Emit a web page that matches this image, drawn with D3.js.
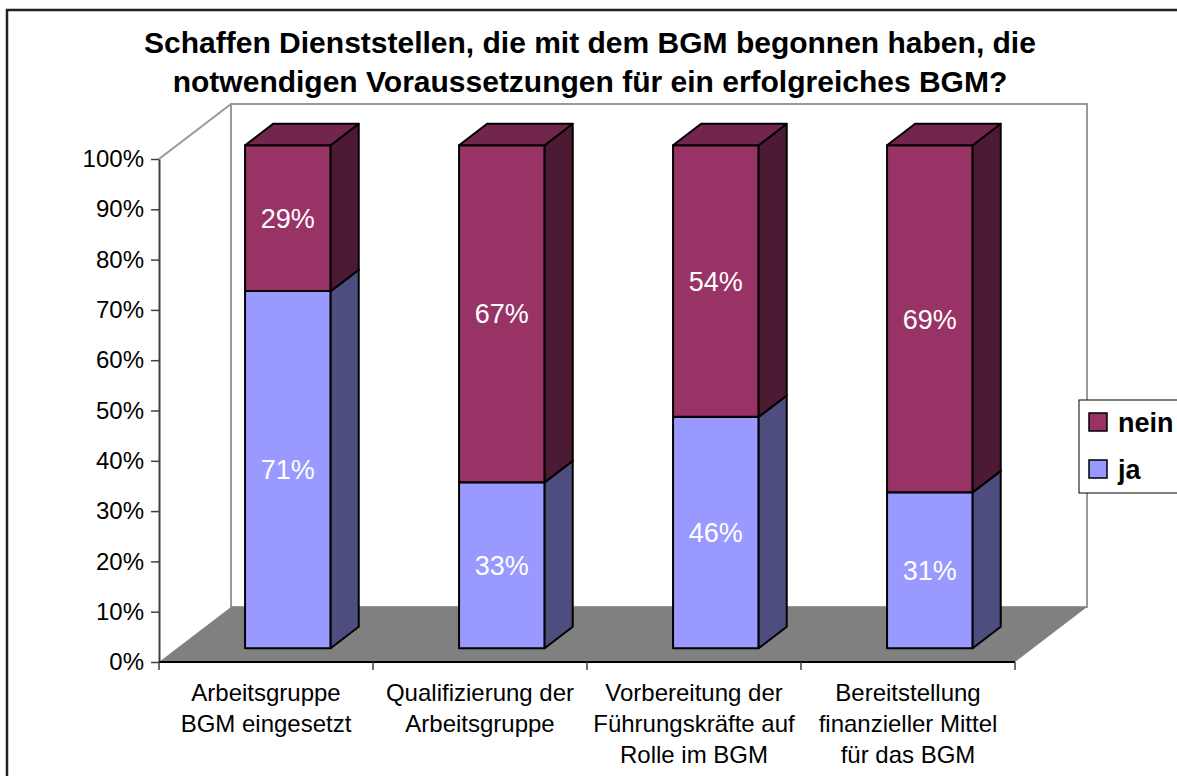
<!DOCTYPE html>
<html>
	<head>
		<meta charset="utf-8">
		<script src="https://cdnjs.cloudflare.com/ajax/libs/d3/7.8.5/d3.min.js" charset="utf-8"></script>
		<style>
			body { margin: 0; background: white; }
			text { font-family: 'Liberation Sans', Arial, sans-serif; }
			.axisLabel { font-size: 24px; fill: #000; }
			.catLabel { font-size: 24px; fill: #000; }
			.valueLabel { font-size: 27px; fill: #fff; }
			.title { font-size: 30px; font-weight: bold; fill: #000; }
			.legendText { font-size: 27px; font-weight: bold; fill: #000; }
		</style>
	</head>
	<body>
		<div id="chart"></div>

		<script>

			////////////////////////////////////////////////////////////
			//////////////////////// Data //////////////////////////////
			////////////////////////////////////////////////////////////

			var categories = ["Arbeitsgruppe BGM eingesetzt", "Qualifizierung der Arbeitsgruppe",
				"Vorbereitung der Führungskräfte auf Rolle im BGM", "Bereitstellung finanzieller Mittel für das BGM"];
			var categoryLines = [
				["Arbeitsgruppe", "BGM eingesetzt"],
				["Qualifizierung der", "Arbeitsgruppe"],
				["Vorbereitung der", "Führungskräfte auf", "Rolle im BGM"],
				["Bereitstellung", "finanzieller Mittel", "für das BGM"]
			];
			var jaValues = [0.71, 0.33, 0.46, 0.31];
			var neinValues = [0.29, 0.67, 0.54, 0.69];
			var seriesKeys = ["ja", "nein"];
			var legendKeys = ["nein", "ja"];
			var yTicks = [0, 0.1, 0.2, 0.3, 0.4, 0.5, 0.6, 0.7, 0.8, 0.9, 1];
			var titleLines = ["Schaffen Dienststellen, die mit dem BGM begonnen haben, die",
				"notwendigen Voraussetzungen für ein erfolgreiches BGM?"];

			////////////////////////////////////////////////////////////
			//////////////////// Set up svg ////////////////////////////
			////////////////////////////////////////////////////////////

			var width = 1177, height = 776;

			var svg = d3.select("#chart").append("svg")
				.attr("width", width)
				.attr("height", height);

			//colors: front, side, top
			var colors = {
				ja:   { front: "#9999ff", side: "#4d4d80", top: "#7373bf" },
				nein: { front: "#993366", side: "#4d1a33", top: "#73264d" }
			};

			//plot frame on the front plane
			var x0 = 159, x1 = 1015, yBottom = 662, yTop = 159;
			//depth vector of the whole 3d box
			var depthX = 72, depthY = -55;
			//depth positions of the bars
			var zFront = 0.25, zBack = 0.64;

			var x = d3.scaleBand().domain(categories).range([x0, x1]).padding(0);
			var y = d3.scaleLinear().domain([0, 1]).range([yBottom, yTop]);
			var bw = x.bandwidth();
			var barW = bw * 0.40;

			function proj(px, py, z) {
				return [px + depthX * z, py + depthY * z];
			}
			function poly(pts) {
				return pts.map(function(p) { return p[0] + "," + p[1]; }).join(" ");
			}

			//outer chart border
			svg.append("rect")
				.attr("x", 7).attr("y", 10)
				.attr("width", 1300).attr("height", 900)
				.style("fill", "none")
				.style("stroke", "#222")
				.style("stroke-width", 2.5);

			//title
			svg.selectAll(".title")
				.data(titleLines)
				.enter().append("text")
				.attr("class", "title")
				.attr("x", 590)
				.attr("y", function(d, i) { return 53 + i * 39; })
				.style("text-anchor", "middle")
				.text(function(d) { return d; });

			////////////////////////////////////////////////////////////
			//////////////////// Walls and floor ///////////////////////
			////////////////////////////////////////////////////////////

			var wallColor = "#999";

			//back wall
			var bTL = proj(x0, yTop, 1), bBR = proj(x1, yBottom, 1);
			svg.append("rect")
				.attr("x", bTL[0]).attr("y", bTL[1])
				.attr("width", bBR[0] - bTL[0]).attr("height", bBR[1] - bTL[1])
				.style("fill", "white")
				.style("stroke", wallColor)
				.style("stroke-width", 2);

			//left wall top edge
			svg.append("line")
				.attr("x1", x0).attr("y1", yTop)
				.attr("x2", bTL[0]).attr("y2", bTL[1])
				.style("stroke", wallColor)
				.style("stroke-width", 2);

			//floor
			svg.append("polygon")
				.attr("points", poly([[x0, yBottom], [x1, yBottom], proj(x1, yBottom, 1), proj(x0, yBottom, 1)]))
				.style("fill", "#808080");

			////////////////////////////////////////////////////////////
			//////////////////////// Bars //////////////////////////////
			////////////////////////////////////////////////////////////

			var rows = categories.map(function(c, i) {
				return { cat: c, ja: jaValues[i], nein: neinValues[i] };
			});
			var stacked = d3.stack().keys(seriesKeys)(rows);

			var barWrapper = svg.append("g").attr("class", "bars");

			rows.forEach(function(r, i) {
				var bx0 = x(r.cat) + bw * 0.318;
				var bx1 = bx0 + barW;
				stacked.forEach(function(s) {
					var lo = y(s[i][0]), hi = y(s[i][1]);
					var col = colors[s.key];
					var g = barWrapper.append("g");
					//front
					g.append("polygon")
						.attr("points", poly([proj(bx0, lo, zFront), proj(bx1, lo, zFront), proj(bx1, hi, zFront), proj(bx0, hi, zFront)]))
						.style("fill", col.front);
					//side
					g.append("polygon")
						.attr("points", poly([proj(bx1, lo, zFront), proj(bx1, lo, zBack), proj(bx1, hi, zBack), proj(bx1, hi, zFront)]))
						.style("fill", col.side);
					//top
					g.append("polygon")
						.attr("points", poly([proj(bx0, hi, zFront), proj(bx1, hi, zFront), proj(bx1, hi, zBack), proj(bx0, hi, zBack)]))
						.style("fill", col.top);
					g.selectAll("polygon")
						.style("stroke", "#000")
						.style("stroke-width", 2)
						.style("stroke-linejoin", "round");

					//value label
					var c = proj((bx0 + bx1) / 2, (lo + hi) / 2, zFront);
					g.append("text")
						.attr("class", "valueLabel")
						.attr("x", c[0])
						.attr("y", c[1])
						.attr("dy", "0.36em")
						.style("text-anchor", "middle")
						.text(d3.format(".0%")(s[i][1] - s[i][0]));
				});
			});

			////////////////////////////////////////////////////////////
			//////////////////////// Axes //////////////////////////////
			////////////////////////////////////////////////////////////

			var yAxis = svg.append("g")
				.attr("transform", "translate(" + x0 + ",0)")
				.call(d3.axisLeft(y).tickValues(yTicks).tickFormat(d3.format(".0%")).tickSize(8).tickPadding(7).tickSizeOuter(0));
			yAxis.select(".domain").style("stroke", "#404040").style("stroke-width", 2);
			yAxis.selectAll(".tick line").style("stroke", "#404040").style("stroke-width", 1.5);
			yAxis.selectAll(".tick text").attr("class", "axisLabel").style("font-family", null).style("font-size", null);
			yAxis.attr("font-family", null).attr("font-size", null);

			//x axis line and ticks
			svg.append("line")
				.attr("x1", x0).attr("y1", yBottom)
				.attr("x2", x1).attr("y2", yBottom)
				.style("stroke", "#000")
				.style("stroke-width", 2);

			var edges = categories.map(function(c) { return x(c); }).concat([x1]);
			svg.selectAll(".xtick")
				.data(edges)
				.enter().append("line")
				.attr("class", "xtick")
				.attr("x1", function(d) { return d; })
				.attr("x2", function(d) { return d; })
				.attr("y1", yBottom)
				.attr("y2", yBottom + 8)
				.style("stroke", "#404040")
				.style("stroke-width", 1.5);

			//category labels
			var catText = svg.selectAll(".catLabel")
				.data(categories)
				.enter().append("text")
				.attr("class", "catLabel")
				.style("text-anchor", "middle");
			catText.each(function(c, i) {
				d3.select(this).selectAll("tspan")
					.data(categoryLines[i])
					.enter().append("tspan")
					.attr("x", x(c) + bw / 2)
					.attr("y", function(d, j) { return 701 + j * 31; })
					.text(function(d) { return d; });
			});

			////////////////////////////////////////////////////////////
			/////////////////////// Legend /////////////////////////////
			////////////////////////////////////////////////////////////

			var legend = svg.append("g").attr("transform", "translate(1079,400)");
			legend.append("rect")
				.attr("width", 200).attr("height", 93)
				.style("fill", "white")
				.style("stroke", "#000")
				.style("stroke-width", 1);

			var legendItem = legend.selectAll(".legendItem")
				.data(legendKeys)
				.enter().append("g")
				.attr("transform", function(d, i) { return "translate(10," + (13 + i * 47) + ")"; });
			legendItem.append("rect")
				.attr("width", 18).attr("height", 18)
				.style("fill", function(d) { return colors[d].front; })
				.style("stroke", "#000")
				.style("stroke-width", 1.5);
			legendItem.append("text")
				.attr("class", "legendText")
				.attr("x", 29)
				.attr("y", 19)
				.text(function(d) { return d; });

		</script>
	</body>
</html>
